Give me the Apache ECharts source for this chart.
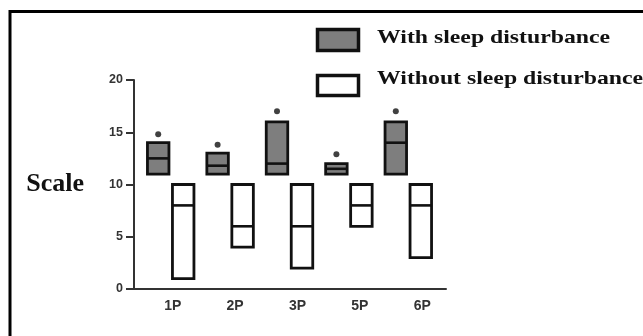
<!DOCTYPE html>
<html>
<head>
<meta charset="utf-8">
<script src="https://cdn.jsdelivr.net/npm/echarts@6/dist/echarts.min.js"></script>
<style>
html,body{margin:0;padding:0;background:#fff;}
#chart{width:643px;height:336px;}
</style>
</head>
<body>
<div id="chart"></div>
<script>
// Data
const categories = ['1P', '2P', '3P', '5P', '6P'];
const withMin = [11, 11, 11, 11, 11];
const withMax = [14, 13, 16, 12, 16];
const withMedian = [12.5, 11.8, 12, 11.5, 14];
const withoutMin = [1, 4, 2, 6, 3];
const withoutMax = [10, 10, 10, 10, 10];
const withoutMedian = [8, 6, 6, 8, 8];
const asteriskY = [14.8, 13.8, 17, 12.9, 17];
const yTicks = [0, 5, 10, 15, 20];
const seriesNames = ['With sleep disturbance', 'Without sleep disturbance'];

const chart = echarts.init(document.getElementById('chart'), null, {renderer: 'canvas'});

function makeRender(side, fill) {
  return function (params, api) {
    const i = api.value(0);
    const lo = api.coord([i, api.value(1)]);
    const hi = api.coord([i, api.value(2)]);
    const md = api.coord([i, api.value(3)]);
    const w = 21.5;
    const cx = lo[0] + side * 12.5;
    return {
      type: 'group',
      children: [
        {type: 'rect', shape: {x: cx - w / 2, y: hi[1], width: w, height: lo[1] - hi[1]},
         style: {fill: fill, stroke: '#111', lineWidth: 2.8}},
        {type: 'line', shape: {x1: cx - w / 2, y1: md[1], x2: cx + w / 2, y2: md[1]},
         style: {stroke: '#111', lineWidth: 2.6}}
      ]
    };
  };
}

const withData = categories.map((c, i) => [i, withMin[i], withMax[i], withMedian[i]]);
const withoutData = categories.map((c, i) => [i, withoutMin[i], withoutMax[i], withoutMedian[i]]);
const starData = categories.map((c, i) => [i, asteriskY[i]]);

const serifBold = {fontFamily: 'Liberation Serif', fontWeight: 'bold', fill: '#111'};

chart.setOption({
  animation: false,
  backgroundColor: '#fff',
  grid: [
    {left: 134, right: 197, top: 80, bottom: 47},
    {left: 141, width: 297, top: 80, bottom: 47}
  ],
  xAxis: [
    {type: 'category', gridIndex: 0, data: categories,
     axisLine: {lineStyle: {color: '#333', width: 2}},
     axisTick: {show: false},
     axisLabel: {color: '#333', fontFamily: 'Liberation Sans', fontWeight: 'bold', fontSize: 14,
                 margin: 10, padding: [0, 0, 0, 15]}},
    {type: 'category', gridIndex: 1, data: categories, show: false}
  ],
  yAxis: [
    {type: 'value', gridIndex: 0, min: 0, max: 20, interval: 5,
     name: 'Scale', nameLocation: 'middle', nameRotate: 0, nameGap: 50,
     nameTextStyle: {fontFamily: 'Liberation Serif', fontWeight: 'bold', fontSize: 26, color: '#111'},
     axisLine: {show: true, lineStyle: {color: '#333', width: 2}},
     axisTick: {show: true, length: 8, lineStyle: {color: '#333', width: 2}},
     axisLabel: {color: '#333', fontFamily: 'Liberation Sans', fontWeight: 'bold', fontSize: 12.5, margin: 11,
                 formatter: v => yTicks.includes(v) ? String(v) : ''},
     splitLine: {show: false}},
    {type: 'value', gridIndex: 1, min: 0, max: 20, interval: 5, show: false}
  ],
  series: [
    {name: seriesNames[0], type: 'custom', xAxisIndex: 1, yAxisIndex: 1,
     renderItem: makeRender(-1, '#7e7e7e'), encode: {x: 0, y: [1, 2, 3]}, data: withData, z: 3},
    {name: seriesNames[1], type: 'custom', xAxisIndex: 1, yAxisIndex: 1,
     renderItem: makeRender(1, '#ffffff'), encode: {x: 0, y: [1, 2, 3]}, data: withoutData, z: 3},
    {name: '*', type: 'scatter', xAxisIndex: 1, yAxisIndex: 1, symbol: 'circle', symbolSize: 6,
     symbolOffset: [-12.5, 0], itemStyle: {color: '#111'}, data: starData, z: 4}
  ],
  graphic: [
    {type: 'polyline', shape: {points: [[10, 336], [10, 11.5], [643, 11.5]]},
     style: {stroke: '#000', lineWidth: 3, fill: null}, z: 10},
    {type: 'rect', shape: {x: 317.5, y: 29.5, width: 41, height: 21},
     style: {fill: '#7e7e7e', stroke: '#111', lineWidth: 3.5}},
    {type: 'rect', shape: {x: 317.5, y: 75.5, width: 41, height: 20},
     style: {fill: '#fff', stroke: '#111', lineWidth: 3.5}},
    {type: 'text', x: 377, y: 38, scaleX: 1.25,
     style: Object.assign({text: seriesNames[0], fontSize: 19, textAlign: 'left', textVerticalAlign: 'middle'}, serifBold)},
    {type: 'text', x: 377, y: 79, scaleX: 1.25,
     style: Object.assign({text: seriesNames[1], fontSize: 19, textAlign: 'left', textVerticalAlign: 'middle'}, serifBold)}
  ]
});
</script>
</body>
</html>
